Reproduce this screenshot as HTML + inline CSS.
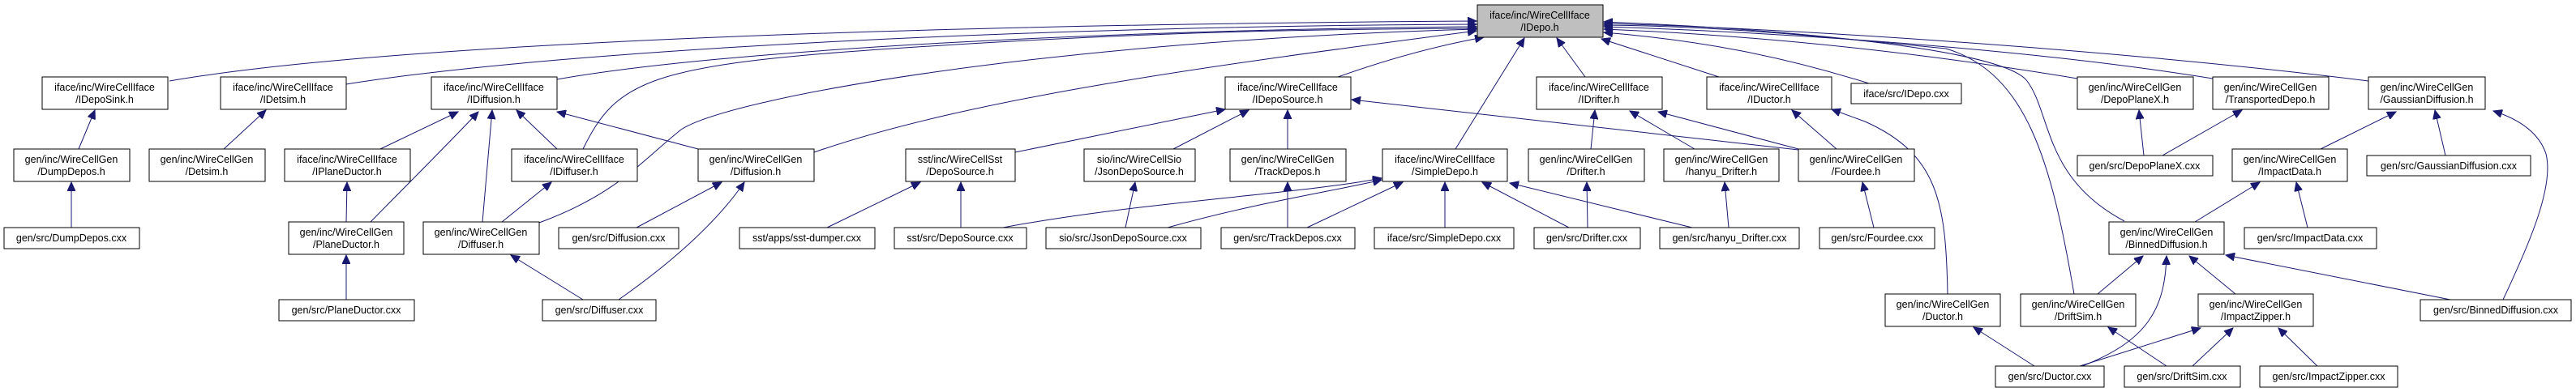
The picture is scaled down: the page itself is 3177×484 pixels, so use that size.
<!DOCTYPE html>
<html><head><meta charset="utf-8"><style>
html,body{margin:0;padding:0;background:#fff;}
svg{display:block;}
text{font-family:"Liberation Sans",sans-serif;font-size:12.5px;fill:#000;text-anchor:middle;}
rect{fill:#fff;stroke:#000;stroke-width:1;}
path{fill:none;stroke:#191970;stroke-width:1;}
</style></head><body>
<svg width="3177" height="484" viewBox="0 0 3177 484" xmlns="http://www.w3.org/2000/svg">
<defs><marker id="a" markerUnits="userSpaceOnUse" markerWidth="12" markerHeight="10" refX="11" refY="5" orient="auto"><path d="M0,0 L11,5 L0,10 Z" style="fill:#191970;stroke:#191970"/></marker></defs>
<g marker-end="url(#a)">
<!-- to IDepo -->
<path d="M209,100 C500,50 1200,30 1821,26"/>
<path d="M427,104 C700,60 1300,32 1821,30"/>
<path d="M687,98 C900,60 1400,36 1821,33"/>
<path d="M719,184 C760,100 800,80 1100,60 C1400,40 1600,36 1821,35"/>
<path d="M665,275 C760,240 790,200 840,160 C900,120 1300,50 1821,36"/>
<path d="M1004,188 C1200,120 1500,80 1821,38"/>
<path d="M1650,95 C1720,70 1780,55 1830,46"/>
<path d="M1795,184 L1880,47"/>
<path d="M1955,95 L1920,47"/>
<path d="M2120,95 L1975,48"/>
<path d="M2305,103 C2200,70 2100,50 1978,40"/>
<path d="M2562,97 C2400,70 2200,45 1978,36"/>
<path d="M2729,97 C2500,60 2200,40 1978,33"/>
<path d="M2921,100 C2600,60 2200,35 1978,29"/>
<path d="M2558,363 C2530,200 2500,90 2400,60 C2200,40 2100,32 1978,31"/>
<path d="M2620,273 C2520,220 2530,140 2500,100 C2470,60 2200,36 1978,27"/>
<!-- others -->
<path d="M1252,188 L1511,135"/>
<path d="M2402,363 C2400,250 2390,190 2300,150 L2259,135"/>
<path d="M97,184 L117,136"/>
<path d="M88,281 L88,225"/>
<path d="M276,184 L328,136"/>
<path d="M469,184 L565,138"/>
<path d="M457,274 C520,210 560,170 590,138"/>
<path d="M595,274 L607,136"/>
<path d="M687,184 L637,136"/>
<path d="M861,184 L687,138"/>
<path d="M427,274 L428,225"/>
<path d="M427,370 L427,315"/>
<path d="M619,274 L680,225"/>
<path d="M719,370 L630,315"/>
<path d="M763,370 C820,330 880,280 918,225"/>
<path d="M785,281 L890,225"/>
<path d="M1020,281 L1135,225"/>
<path d="M1185,281 L1185,225"/>
<path d="M1447,184 L1540,136"/>
<path d="M1588,184 L1588,136"/>
<path d="M1388,281 L1400,225"/>
<path d="M1588,281 L1588,225"/>
<path d="M1237,281 C1400,250 1600,240 1704,220"/>
<path d="M1440,281 C1550,250 1650,235 1704,222"/>
<path d="M1612,281 L1730,225"/>
<path d="M1782,281 L1782,225"/>
<path d="M1935,281 L1828,225"/>
<path d="M2087,281 L1862,226"/>
<path d="M2218,185 L1667,123"/>
<path d="M1962,184 L1967,136"/>
<path d="M2090,184 L2010,137"/>
<path d="M2218,184 L2045,138"/>
<path d="M2265,184 L2210,136"/>
<path d="M1958,281 L1957,225"/>
<path d="M2132,281 L2127,225"/>
<path d="M2311,281 L2297,225"/>
<path d="M2644,192 L2638,136"/>
<path d="M2667,192 L2765,136"/>
<path d="M2862,184 L2955,138"/>
<path d="M3016,192 L3003,136"/>
<path d="M3087,370 C3120,300 3150,230 3140,190 C3130,160 3100,145 3075,137"/>
<path d="M2707,274 L2787,225"/>
<path d="M2846,281 L2832,225"/>
<path d="M2587,363 L2643,316"/>
<path d="M2568,452 C2650,420 2670,380 2672,316"/>
<path d="M2757,363 L2700,316"/>
<path d="M3022,370 L2745,315"/>
<path d="M2509,452 L2434,404"/>
<path d="M2565,452 L2714,405"/>
<path d="M2672,452 L2600,404"/>
<path d="M2704,452 L2754,405"/>
<path d="M2858,452 L2810,405"/>
</g>
<!-- nodes -->
<rect x="1822" y="6" width="155" height="40" style="fill:#bfbfbf"/><text x="1899" y="23">iface/inc/WireCellIface</text><text x="1899" y="38">/IDepo.h</text>

<rect x="52" y="95" width="155" height="40"/><text x="129" y="112">iface/inc/WireCellIface</text><text x="129" y="127">/IDepoSink.h</text>
<rect x="272" y="95" width="155" height="40"/><text x="349" y="112">iface/inc/WireCellIface</text><text x="349" y="127">/IDetsim.h</text>
<rect x="532" y="95" width="155" height="40"/><text x="609" y="112">iface/inc/WireCellIface</text><text x="609" y="127">/IDiffusion.h</text>
<rect x="1511" y="95" width="155" height="40"/><text x="1588" y="112">iface/inc/WireCellIface</text><text x="1588" y="127">/IDepoSource.h</text>
<rect x="1895" y="95" width="155" height="40"/><text x="1972" y="112">iface/inc/WireCellIface</text><text x="1972" y="127">/IDrifter.h</text>
<rect x="2105" y="95" width="154" height="40"/><text x="2182" y="112">iface/inc/WireCellIface</text><text x="2182" y="127">/IDuctor.h</text>
<rect x="2283" y="103" width="136" height="25"/><text x="2351" y="120">iface/src/IDepo.cxx</text>
<rect x="2562" y="95" width="143" height="40"/><text x="2633" y="112">gen/inc/WireCellGen</text><text x="2633" y="127">/DepoPlaneX.h</text>
<rect x="2729" y="95" width="143" height="40"/><text x="2800" y="112">gen/inc/WireCellGen</text><text x="2800" y="127">/TransportedDepo.h</text>
<rect x="2921" y="95" width="144" height="40"/><text x="2993" y="112">gen/inc/WireCellGen</text><text x="2993" y="127">/GaussianDiffusion.h</text>

<rect x="17" y="184" width="143" height="40"/><text x="88" y="201">gen/inc/WireCellGen</text><text x="88" y="216">/DumpDepos.h</text>
<rect x="184" y="184" width="143" height="40"/><text x="255" y="201">gen/inc/WireCellGen</text><text x="255" y="216">/Detsim.h</text>
<rect x="351" y="184" width="155" height="40"/><text x="428" y="201">iface/inc/WireCellIface</text><text x="428" y="216">/IPlaneDuctor.h</text>
<rect x="631" y="184" width="155" height="40"/><text x="708" y="201">iface/inc/WireCellIface</text><text x="708" y="216">/IDiffuser.h</text>
<rect x="861" y="184" width="143" height="40"/><text x="932" y="201">gen/inc/WireCellGen</text><text x="932" y="216">/Diffusion.h</text>
<rect x="1117" y="184" width="135" height="40"/><text x="1184" y="201">sst/inc/WireCellSst</text><text x="1184" y="216">/DepoSource.h</text>
<rect x="1337" y="184" width="137" height="40"/><text x="1405" y="201">sio/inc/WireCellSio</text><text x="1405" y="216">/JsonDepoSource.h</text>
<rect x="1517" y="184" width="143" height="40"/><text x="1588" y="201">gen/inc/WireCellGen</text><text x="1588" y="216">/TrackDepos.h</text>
<rect x="1705" y="184" width="154" height="40"/><text x="1782" y="201">iface/inc/WireCellIface</text><text x="1782" y="216">/SimpleDepo.h</text>
<rect x="1885" y="184" width="143" height="40"/><text x="1956" y="201">gen/inc/WireCellGen</text><text x="1956" y="216">/Drifter.h</text>
<rect x="2052" y="184" width="142" height="40"/><text x="2123" y="201">gen/inc/WireCellGen</text><text x="2123" y="216">/hanyu_Drifter.h</text>
<rect x="2218" y="184" width="143" height="40"/><text x="2289" y="201">gen/inc/WireCellGen</text><text x="2289" y="216">/Fourdee.h</text>
<rect x="2562" y="192" width="167" height="25"/><text x="2645" y="209">gen/src/DepoPlaneX.cxx</text>
<rect x="2753" y="184" width="142" height="40"/><text x="2824" y="201">gen/inc/WireCellGen</text><text x="2824" y="216">/ImpactData.h</text>
<rect x="2919" y="192" width="202" height="25"/><text x="3020" y="209">gen/src/GaussianDiffusion.cxx</text>

<rect x="5" y="281" width="167" height="26"/><text x="88" y="298">gen/src/DumpDepos.cxx</text>
<rect x="356" y="274" width="142" height="40"/><text x="427" y="291">gen/inc/WireCellGen</text><text x="427" y="306">/PlaneDuctor.h</text>
<rect x="522" y="274" width="143" height="40"/><text x="593" y="291">gen/inc/WireCellGen</text><text x="593" y="306">/Diffuser.h</text>
<rect x="689" y="281" width="148" height="26"/><text x="763" y="298">gen/src/Diffusion.cxx</text>
<rect x="912" y="281" width="167" height="26"/><text x="995" y="298">sst/apps/sst-dumper.cxx</text>
<rect x="1103" y="281" width="163" height="26"/><text x="1184" y="298">sst/src/DepoSource.cxx</text>
<rect x="1290" y="281" width="191" height="26"/><text x="1385" y="298">sio/src/JsonDepoSource.cxx</text>
<rect x="1506" y="281" width="165" height="26"/><text x="1588" y="298">gen/src/TrackDepos.cxx</text>
<rect x="1695" y="281" width="172" height="26"/><text x="1781" y="298">iface/src/SimpleDepo.cxx</text>
<rect x="1892" y="281" width="131" height="26"/><text x="1957" y="298">gen/src/Drifter.cxx</text>
<rect x="2047" y="281" width="172" height="26"/><text x="2133" y="298">gen/src/hanyu_Drifter.cxx</text>
<rect x="2244" y="281" width="142" height="26"/><text x="2315" y="298">gen/src/Fourdee.cxx</text>
<rect x="2601" y="274" width="142" height="40"/><text x="2672" y="291">gen/inc/WireCellGen</text><text x="2672" y="306">/BinnedDiffusion.h</text>
<rect x="2768" y="281" width="163" height="26"/><text x="2849" y="298">gen/src/ImpactData.cxx</text>

<rect x="344" y="370" width="167" height="26"/><text x="427" y="387">gen/src/PlaneDuctor.cxx</text>
<rect x="669" y="370" width="140" height="26"/><text x="739" y="387">gen/src/Diffuser.cxx</text>
<rect x="2325" y="363" width="142" height="40"/><text x="2396" y="380">gen/inc/WireCellGen</text><text x="2396" y="395">/Ductor.h</text>
<rect x="2492" y="363" width="142" height="40"/><text x="2563" y="380">gen/inc/WireCellGen</text><text x="2563" y="395">/DriftSim.h</text>
<rect x="2711" y="363" width="142" height="40"/><text x="2782" y="380">gen/inc/WireCellGen</text><text x="2782" y="395">/ImpactZipper.h</text>
<rect x="2985" y="370" width="186" height="26"/><text x="3078" y="387">gen/src/BinnedDiffusion.cxx</text>

<rect x="2461" y="452" width="134" height="26"/><text x="2528" y="469">gen/src/Ductor.cxx</text>
<rect x="2620" y="452" width="143" height="26"/><text x="2691" y="469">gen/src/DriftSim.cxx</text>
<rect x="2787" y="452" width="170" height="26"/><text x="2872" y="469">gen/src/ImpactZipper.cxx</text>
</svg>
</body></html>
